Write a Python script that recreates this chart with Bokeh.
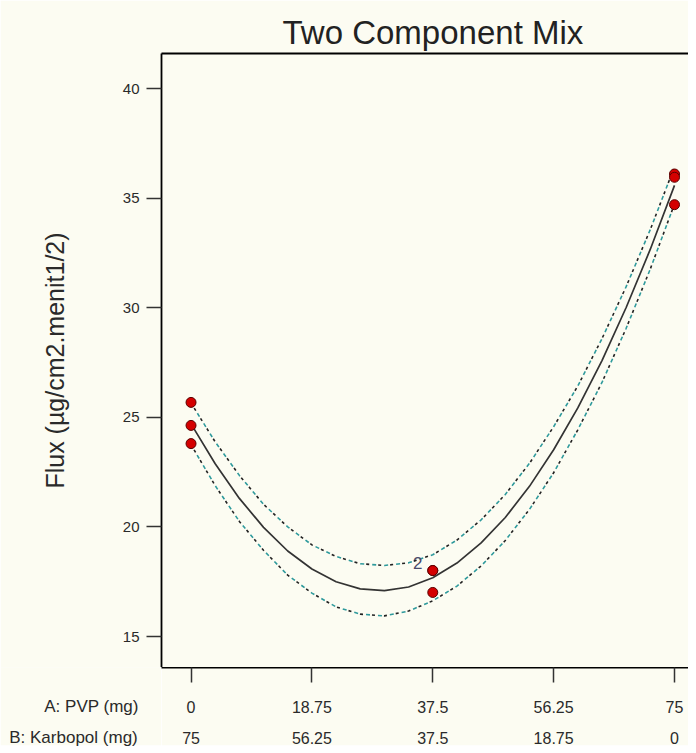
from bokeh.plotting import figure
from bokeh.models import LinearAxis, FixedTicker, Range1d
from bokeh.layouts import column, row
from bokeh.core.properties import value
from bokeh.embed import file_html
from bokeh.resources import INLINE

# ---- data ----
x_ticks = [0, 18.75, 37.5, 56.25, 75]
a_labels = ["0", "18.75", "37.5", "56.25", "75"]
b_labels = ["75", "56.25", "37.5", "18.75", "0"]
y_ticks = [15, 20, 25, 30, 35, 40]

pvp_obs = [0, 0, 0, 37.5, 37.5, 37.5, 75, 75, 75]
flux_obs = [25.68, 24.63, 23.80, 18.01, 18.01, 17.01, 36.10, 35.95, 34.70]

replicate_x = [37.5]
replicate_y = [18.01]
replicate_txt = ["2"]

curve_x = [0, 3.75, 7.5, 11.25, 15, 18.75, 22.5, 26.25, 30, 33.75, 37.5,
           41.25, 45, 48.75, 52.5, 56.25, 60, 63.75, 67.5, 71.25, 75]
flux_fit = [24.70, 22.88, 21.30, 19.98, 18.90, 18.08, 17.50, 17.17, 17.09, 17.26, 17.68,
            18.35, 19.27, 20.43, 21.85, 23.52, 25.43, 27.59, 30.01, 32.67, 35.58]
flux_upper = [25.65, 23.88, 22.35, 21.03, 20.00, 19.18, 18.65, 18.32, 18.24, 18.36, 18.73,
              19.40, 20.32, 21.48, 22.90, 24.57, 26.43, 28.59, 30.96, 33.57, 36.43]
flux_lower = [23.75, 21.88, 20.25, 18.93, 17.80, 16.98, 16.35, 16.02, 15.94, 16.16, 16.63,
              17.30, 18.22, 19.38, 20.80, 22.47, 24.43, 26.59, 29.06, 31.77, 34.73]

row_name_a = "A: PVP (mg)"
row_name_b = "B: Karbopol (mg)"

BG = "#fcfcf2"
FONT = "Liberation Sans"
TXT = "#2a2a2a"

xr = Range1d(-4.58, 77.17)

# ---------------- main plot ----------------
p = figure(width=688, height=667,
           x_range=xr, y_range=Range1d(13.586, 41.597),
           output_backend="svg", toolbar_location=None,
           x_axis_location=None, y_axis_location=None,
           min_border_left=161, min_border_right=0,
           min_border_top=53, min_border_bottom=0)
p.background_fill_color = BG
p.border_fill_color = BG
p.outline_line_color = None
p.grid.visible = False

p.title.text = "Two Component Mix"
p.title.align = "left"
p.title.offset = 121
p.title.standoff = 5
p.title.text_font = FONT
p.title.text_font_size = "33px"
p.title.text_font_style = "normal"
p.title.text_color = "#222222"

yaxis = LinearAxis(ticker=FixedTicker(ticks=y_ticks))
yaxis.axis_line_color = "black"
yaxis.axis_line_width = 1.8
yaxis.major_tick_out = 15
yaxis.major_tick_in = 0
yaxis.major_tick_line_width = 1.5
yaxis.major_tick_line_color = "#333333"
yaxis.minor_tick_line_color = None
yaxis.major_label_standoff = 7
yaxis.major_label_text_font = FONT
yaxis.major_label_text_font_size = "15px"
yaxis.major_label_text_color = TXT
yaxis.axis_label = "Flux (µg/cm2.menit1/2)"
yaxis.axis_label_standoff = 51
yaxis.axis_label_text_font = FONT
yaxis.axis_label_text_font_size = "25px"
yaxis.axis_label_text_font_style = "normal"
yaxis.axis_label_text_color = TXT
p.add_layout(yaxis, "left")

topaxis = LinearAxis(ticker=FixedTicker(ticks=[]))
topaxis.axis_line_color = "black"
topaxis.axis_line_width = 1.8
topaxis.major_tick_line_color = None
topaxis.minor_tick_line_color = None
p.add_layout(topaxis, "above")

p.line(curve_x, flux_fit, line_color="#333333", line_width=1.7)
for band in (flux_upper, flux_lower):
    p.line(curve_x, band, line_color="#2e9a9c", line_width=1.6, line_dash="4 8")
    p.line(curve_x, band, line_color="#222222", line_width=1.6, line_dash="3 9",
           line_dash_offset=6)

p.scatter(pvp_obs, flux_obs, marker="circle", size=10,
          fill_color="#d40000", line_color="#5a0000", line_width=1)

p.text(replicate_x, replicate_y, text=replicate_txt, x_offset=-15, y_offset=-8,
       text_align="center", text_baseline="middle",
       text_font=value(FONT), text_font_size="17px", text_color="#4a4a6a")


def strip(width, x_range, ticks1, labels1, ticks2, labels2, line1, size, s1, s2):
    f = figure(width=width, height=78, x_range=x_range, y_range=Range1d(0, 1),
               output_backend="svg", toolbar_location=None,
               x_axis_location=None, y_axis_location=None,
               min_border_left=0, min_border_right=0,
               min_border_top=0, min_border_bottom=77)
    f.background_fill_color = BG
    f.border_fill_color = BG
    f.outline_line_color = None
    f.grid.visible = False

    a1 = LinearAxis(ticker=FixedTicker(ticks=ticks1),
                    major_label_overrides=dict(zip(ticks1, labels1)))
    a1.axis_line_color = "black" if line1 else None
    a1.axis_line_width = 1.8
    a1.major_tick_out = 15
    a1.major_tick_in = 0
    a1.major_tick_line_width = 1.5
    a1.major_tick_line_color = "#333333" if line1 else None
    a1.minor_tick_line_color = None
    a1.major_label_standoff = s1
    a1.major_label_text_font = FONT
    a1.major_label_text_font_size = size
    a1.major_label_text_color = TXT
    f.add_layout(a1, "below")

    a2 = LinearAxis(ticker=FixedTicker(ticks=ticks2),
                    major_label_overrides=dict(zip(ticks2, labels2)))
    a2.axis_line_color = None
    a2.major_tick_line_color = None
    a2.major_tick_out = 0
    a2.major_tick_in = 0
    a2.minor_tick_line_color = None
    a2.major_label_standoff = s2
    a2.major_label_text_font = FONT
    a2.major_label_text_font_size = size
    a2.major_label_text_color = TXT
    f.add_layout(a2, "below")
    return f


# x axes strip (shares the main x range)
xs = strip(527, xr, x_ticks, a_labels, x_ticks, b_labels, True, "16px", 18, 16)

# row names strip: one tick each, placed so the names end left of the "0" column
rn = strip(161, Range1d(0, 161), [91], [row_name_a], [73], [row_name_b], False,
           "17px", 14, 9)

layout = column(p, row(rn, xs, spacing=0), spacing=0)

open("out.html", "w").write(file_html(layout, INLINE))
